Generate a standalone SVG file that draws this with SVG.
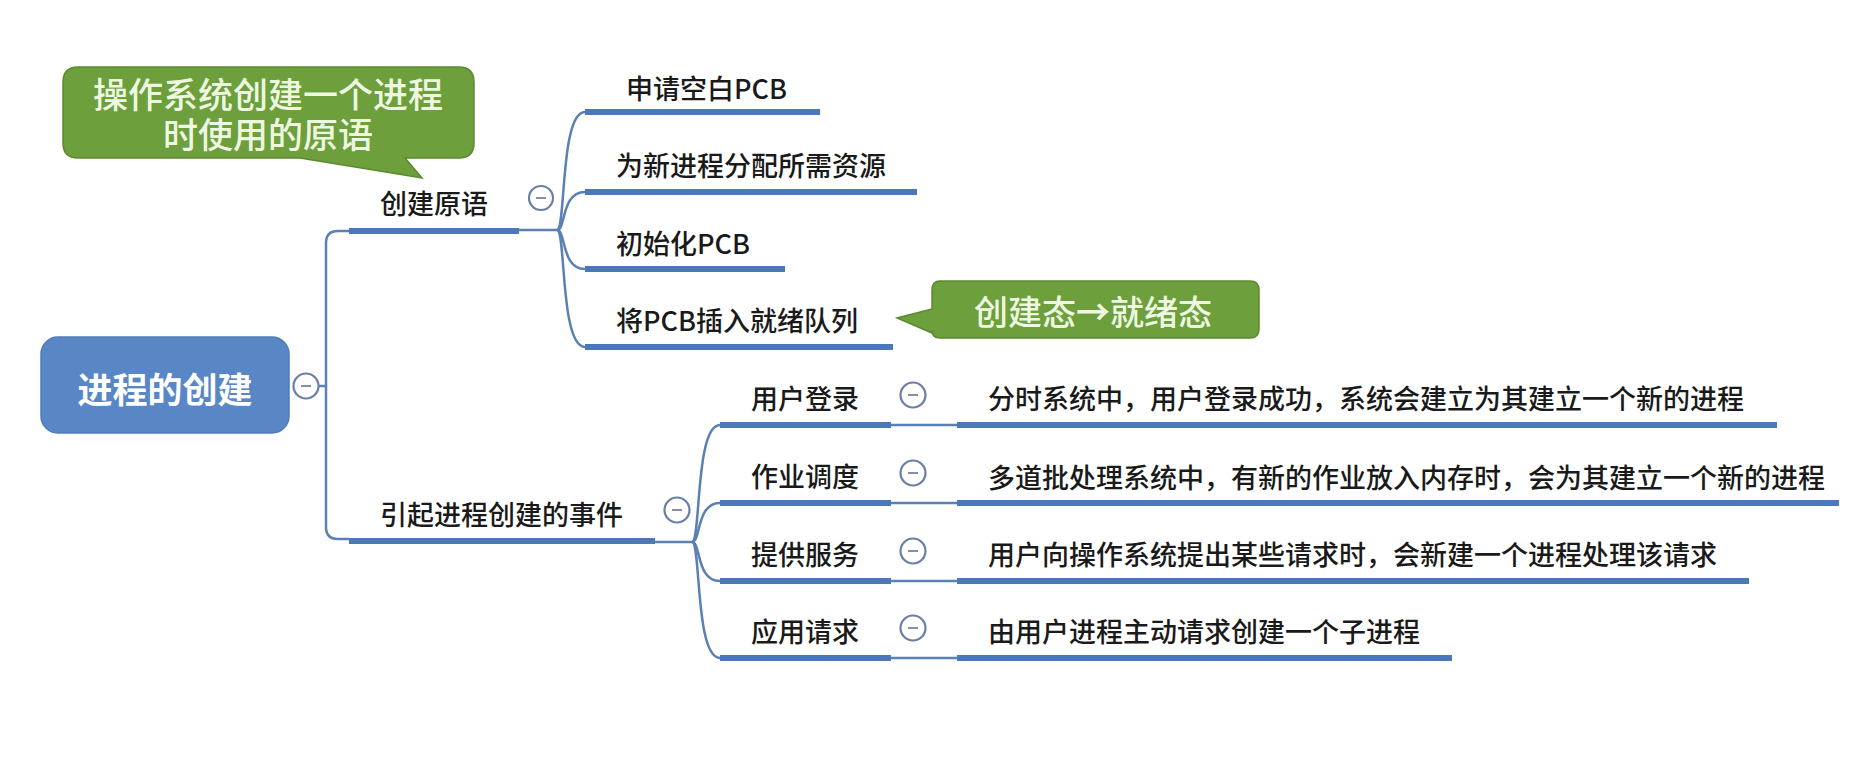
<svg xmlns="http://www.w3.org/2000/svg" width="1850" height="766" viewBox="0 0 1850 766">
<style>
.t{font-family:"Noto Sans CJK SC","Noto Sans",sans-serif;font-size:27px;font-weight:500;fill:#1a1a1a;dominant-baseline:central}
.ul{stroke:#4a78b8;stroke-width:6;stroke-linecap:butt}
.cn{stroke:#5b80b3;stroke-width:2.5;fill:none}
.col circle{fill:#fff;stroke:#6b7ea8;stroke-width:2.2}
.col line{stroke:#858fab;stroke-width:2}
.bub{fill:#6d9f3d;stroke:#5b8a30;stroke-width:1.5}
.bt{font-family:"Noto Sans CJK SC","Noto Sans",sans-serif;font-size:35px;font-weight:500;fill:#eef8e0;dominant-baseline:central;text-anchor:middle}
</style>
<rect width="1850" height="766" fill="#ffffff"/>

<g id="connectors">
  <line class="cn" x1="318" y1="386" x2="326" y2="386"/>
  <path class="cn" d="M349,231 L338,231 Q326,231 326,243 L326,527 Q326,539 338,539 L349,539"/>
  <line class="cn" x1="519" y1="230" x2="557" y2="230"/>
  <path class="cn" d="M557,230 C566,230 560,112 585,112"/>
  <path class="cn" d="M557,230 C566,230 561,192 585,192"/>
  <path class="cn" d="M557,230 C566,230 561,269 585,269"/>
  <path class="cn" d="M557,230 C566,230 560,347 585,347"/>
  <line class="cn" x1="655" y1="542" x2="692" y2="542"/>
  <path class="cn" d="M692,542 C701,542 695,425 720,425"/>
  <path class="cn" d="M692,542 C701,542 696,503 720,503"/>
  <path class="cn" d="M692,542 C701,542 696,581 720,581"/>
  <path class="cn" d="M692,542 C701,542 695,658 720,658"/>
  <line class="cn" x1="891" y1="425" x2="957" y2="425"/>
  <line class="cn" x1="891" y1="503" x2="957" y2="503"/>
  <line class="cn" x1="891" y1="581" x2="957" y2="581"/>
  <line class="cn" x1="891" y1="658" x2="957" y2="658"/>
</g>

<g id="root">
  <rect x="41" y="337" width="248" height="96" rx="17" fill="#5987c6" stroke="#4f7dbb" stroke-width="1.5"/>
  <text x="165" y="387" text-anchor="middle" style="font-family:'Noto Sans CJK SC','Noto Sans',sans-serif;font-size:35px;font-weight:bold;fill:#ffffff;dominant-baseline:central">进程的创建</text>
  <g class="col"><circle cx="306" cy="386" r="12.5"/><line x1="301" y1="386" x2="311" y2="386"/></g>
</g>

<g id="n-create-primitive">
  <text class="t" x="380" y="202">创建原语</text>
  <line class="ul" x1="349" y1="231" x2="519" y2="231"/>
  <g class="col"><circle cx="541" cy="198" r="12"/><line x1="536" y1="198" x2="546" y2="198"/></g>
</g>

<g id="n-apply-pcb">
  <text class="t" x="626" y="87">申请空白PCB</text>
  <line class="ul" x1="585" y1="112" x2="820" y2="112"/>
</g>
<g id="n-alloc">
  <text class="t" x="616" y="164">为新进程分配所需资源</text>
  <line class="ul" x1="585" y1="192" x2="917" y2="192"/>
</g>
<g id="n-init-pcb">
  <text class="t" x="616" y="242">初始化PCB</text>
  <line class="ul" x1="585" y1="269" x2="785" y2="269"/>
</g>
<g id="n-insert">
  <text class="t" x="616" y="319">将PCB插入就绪队列</text>
  <line class="ul" x1="585" y1="347" x2="893" y2="347"/>
</g>

<g id="n-events">
  <text class="t" x="380" y="513">引起进程创建的事件</text>
  <line class="ul" x1="349" y1="541" x2="655" y2="541"/>
  <g class="col"><circle cx="677" cy="510" r="12.5"/><line x1="672" y1="510" x2="682" y2="510"/></g>
</g>

<g id="n-login">
  <text class="t" x="751" y="397">用户登录</text>
  <line class="ul" x1="720" y1="425" x2="891" y2="425"/>
  <g class="col"><circle cx="913" cy="395" r="12.5"/><line x1="908" y1="395" x2="918" y2="395"/></g>
</g>
<g id="n-login-desc">
  <text class="t" x="988" y="397">分时系统中，用户登录成功，系统会建立为其建立一个新的进程</text>
  <line class="ul" x1="957" y1="425" x2="1777" y2="425"/>
</g>

<g id="n-job">
  <text class="t" x="751" y="475">作业调度</text>
  <line class="ul" x1="720" y1="503" x2="891" y2="503"/>
  <g class="col"><circle cx="913" cy="473" r="12.5"/><line x1="908" y1="473" x2="918" y2="473"/></g>
</g>
<g id="n-job-desc">
  <text class="t" x="988" y="476">多道批处理系统中，有新的作业放入内存时，会为其建立一个新的进程</text>
  <line class="ul" x1="957" y1="503" x2="1839" y2="503"/>
</g>

<g id="n-service">
  <text class="t" x="751" y="553">提供服务</text>
  <line class="ul" x1="720" y1="581" x2="891" y2="581"/>
  <g class="col"><circle cx="913" cy="551" r="12.5"/><line x1="908" y1="551" x2="918" y2="551"/></g>
</g>
<g id="n-service-desc">
  <text class="t" x="988" y="553">用户向操作系统提出某些请求时，会新建一个进程处理该请求</text>
  <line class="ul" x1="957" y1="581" x2="1749" y2="581"/>
</g>

<g id="n-app">
  <text class="t" x="751" y="630">应用请求</text>
  <line class="ul" x1="720" y1="658" x2="891" y2="658"/>
  <g class="col"><circle cx="913" cy="628" r="12.5"/><line x1="908" y1="628" x2="918" y2="628"/></g>
</g>
<g id="n-app-desc">
  <text class="t" x="988" y="630">由用户进程主动请求创建一个子进程</text>
  <line class="ul" x1="957" y1="658" x2="1452" y2="658"/>
</g>

<g id="callout-primitive">
  <path class="bub" d="M78,67 L459,67 Q474,67 474,82 L474,143 Q474,158 459,158 L405,158 L422,178 L300,158 L78,158 Q63,158 63,143 L63,82 Q63,67 78,67 Z"/>
  <text class="bt"><tspan x="268" y="92">操作系统创建一个进程</tspan><tspan x="268" y="132">时使用的原语</tspan></text>
</g>

<g id="callout-state">
  <path class="bub" d="M940,281 L1250,281 Q1259,281 1259,290 L1259,329 Q1259,338 1250,338 L940,338 Q932,338 932,330 L932,333 L897,318 L932,309 L932,290 Q932,281 940,281 Z"/>
  <text class="bt" x="1093" y="310" style="font-size:34px">创建态<tspan style="font-weight:bold">→</tspan>就绪态</text>
</g>
</svg>
